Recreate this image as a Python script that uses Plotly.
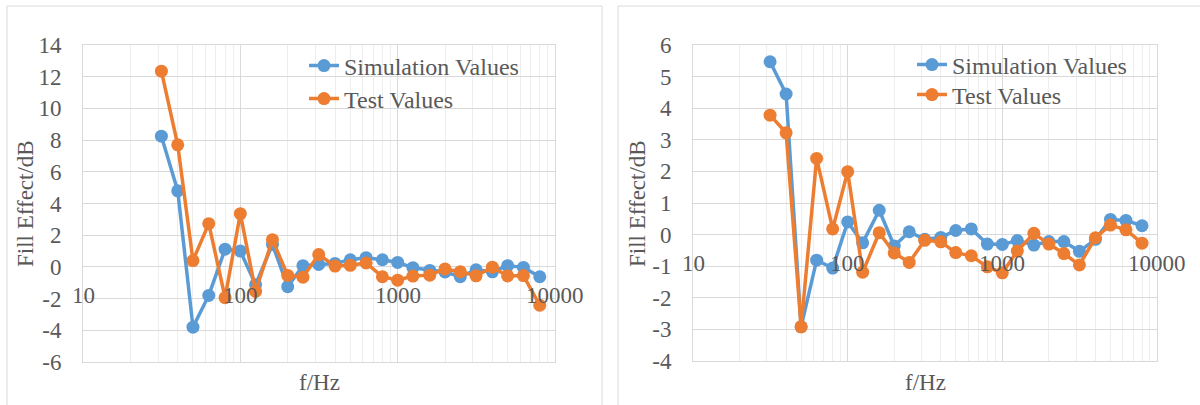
import numpy as np
import plotly.graph_objects as go

# ---------------- data ----------------
freqs = [31.5, 40, 50, 63, 80, 100, 125, 160, 200, 250, 315, 400, 500, 630, 800,
         1000, 1250, 1600, 2000, 2500, 3150, 4000, 5000, 6300, 8000]

sim_left = [8.25, 4.8, -3.8, -1.8, 1.12, 1.0, -1.12, 1.42, -1.25, 0.08, 0.15, 0.22, 0.45,
            0.58, 0.45, 0.28, -0.05, -0.22, -0.32, -0.62, -0.18, -0.31, 0.08, -0.03, -0.62]
test_left = [12.35, 7.7, 0.4, 2.73, -1.94, 3.36, -1.55, 1.72, -0.54, -0.65, 0.78, 0.05, 0.1,
             0.25, -0.62, -0.84, -0.58, -0.52, -0.13, -0.3, -0.56, -0.02, -0.57, -0.55, -2.42]

sim_right = [5.47, 4.45, -2.92, -0.81, -1.06, 0.4, -0.26, 0.77, -0.36, 0.09, -0.15, -0.09, 0.13,
             0.18, -0.3, -0.31, -0.19, -0.33, -0.22, -0.22, -0.53, -0.15, 0.48, 0.45, 0.28]
test_right = [3.78, 3.22, -2.92, 2.41, 0.18, 1.99, -1.19, 0.06, -0.58, -0.88, -0.18, -0.23, -0.57,
              -0.67, -1.02, -1.21, -0.52, 0.04, -0.3, -0.6, -0.96, -0.1, 0.3, 0.15, -0.27]

series_names = ["Simulation Values", "Test Values"]
x_tick_vals = [10, 100, 1000, 10000]
x_tick_text = ["10", "100", "1000", "10000"]
y_ticks_left = [-6, -4, -2, 0, 2, 4, 6, 8, 10, 12, 14]
y_ticks_right = [-4, -3, -2, -1, 0, 1, 2, 3, 4, 5, 6]
x_title = "f/Hz"
y_title = "Fill Effect/dB"

# ---------------- style ----------------
W, H = 1200, 405
BLUE = "#5B9BD5"
ORANGE = "#ED7D31"
TXT = "#595959"
GRID = "#D9D9D9"
MINOR = "#EEEEEE"
FONT = "Liberation Serif"
FS = 23
FS_LEG = 24

def px(x):
    return x / W

def py(y):
    return 1 - y / H

fig = go.Figure()

panels = [
    (sim_left, test_left, "x", "y", ("legend", "legend2")),
    (sim_right, test_right, "x2", "y2", ("legend3", "legend4")),
]
for sim, test, xa, ya, legs in panels:
    for vals, color, name, leg in [(sim, BLUE, series_names[0], legs[0]),
                                   (test, ORANGE, series_names[1], legs[1])]:
        fig.add_trace(go.Scatter(
            x=freqs, y=vals, name=name, mode="lines+markers",
            xaxis=xa, yaxis=ya, legend=leg,
            line=dict(color=color, width=3.5),
            marker=dict(color=color, size=13, symbol="circle"),
        ))

def xaxis_cfg(dom, anchor):
    return dict(type="log", range=[1, 4], domain=dom, anchor=anchor, automargin=False,
                showticklabels=False, dtick=1, showgrid=True, gridcolor=GRID, gridwidth=1,
                minor=dict(showgrid=True, gridcolor=MINOR, dtick="D1", ticks=""),
                showline=True, mirror=True, linecolor=GRID, linewidth=1, zeroline=False,
                ticks="")

def yaxis_cfg(dom, anchor, rng, ticks):
    return dict(range=rng, domain=dom, anchor=anchor, automargin=False,
                tickmode="array", tickvals=ticks, ticktext=[str(t) for t in ticks],
                tickfont=dict(family=FONT, size=FS, color=TXT),
                ticklabelstandoff=16,
                showgrid=True, gridcolor=GRID, gridwidth=1,
                zeroline=True, zerolinecolor=GRID, zerolinewidth=1,
                showline=True, mirror=True, linecolor=GRID, linewidth=1, ticks="")

def legend_cfg(xtext, ycenter):
    return dict(x=px(xtext - 40), y=py(ycenter), xanchor="left", yanchor="middle",
                bgcolor="rgba(0,0,0,0)", font=dict(family=FONT, size=FS_LEG, color=TXT),
                itemwidth=30)

fig.update_layout(
    width=W, height=H,
    margin=dict(l=0, r=0, t=0, b=0, autoexpand=False),
    paper_bgcolor="white", plot_bgcolor="white",
    font=dict(family=FONT, size=FS, color=TXT),
    xaxis=xaxis_cfg([px(83), px(555)], "y"),
    yaxis=yaxis_cfg([py(362), py(45)], "x", [-6, 14], y_ticks_left),
    xaxis2=xaxis_cfg([px(693), px(1157)], "y2"),
    yaxis2=yaxis_cfg([py(361), py(45)], "x2", [-4, 6], y_ticks_right),
    legend=legend_cfg(344, 66),
    legend2=legend_cfg(344, 99),
    legend3=legend_cfg(952, 65),
    legend4=legend_cfg(952, 95),
    showlegend=True,
)

annotations = []
for xa, ya in [("x", "y"), ("x2", "y2")]:
    for v, t in zip(x_tick_vals, x_tick_text):
        annotations.append(dict(x=np.log10(v), y=0, xref=xa, yref=ya, text=t,
                                showarrow=False, xanchor="center", yanchor="middle",
                                yshift=-29, font=dict(family=FONT, size=FS, color=TXT)))
# axis titles
for xc in (319, 925):
    annotations.append(dict(x=px(xc), y=py(382), xref="paper", yref="paper", text=x_title,
                            showarrow=False, xanchor="center", yanchor="middle",
                            font=dict(family=FONT, size=FS, color=TXT)))
for xc in (26, 638):
    annotations.append(dict(x=px(xc), y=py(204), xref="paper", yref="paper", text=y_title,
                            textangle=-90, showarrow=False, xanchor="center", yanchor="middle",
                            font=dict(family=FONT, size=FS, color=TXT)))
fig.update_layout(annotations=annotations)

# chart-area borders
fig.add_shape(type="rect", xref="paper", yref="paper", x0=px(7), x1=px(602), y0=-0.1, y1=py(6),
              line=dict(color=GRID, width=1), fillcolor="rgba(0,0,0,0)", layer="below")
fig.add_shape(type="rect", xref="paper", yref="paper", x0=px(618), x1=1.1, y0=-0.1, y1=py(6),
              line=dict(color=GRID, width=1), fillcolor="rgba(0,0,0,0)", layer="below")

fig.write_html("out.html", config={"displayModeBar": False},
               post_script="document.body.style.margin='0';document.body.style.overflow='hidden';")
